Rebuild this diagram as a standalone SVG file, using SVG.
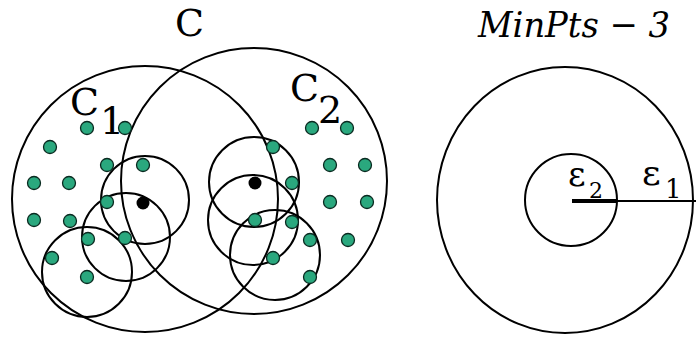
<svg xmlns="http://www.w3.org/2000/svg" width="696" height="338" viewBox="0 0 696 338">
<style>
.c{fill:none;stroke:#000;stroke-width:2}
.g{fill:#2aa87e;stroke:#0a2a20;stroke-width:1.3}
.k{fill:#000}
text{font-family:'DejaVu Serif','Liberation Serif',serif;fill:#000}
</style>
<defs>
<circle id="d" r="6.5" class="g"/>
</defs>
<rect width="696" height="338" fill="#fff"/>
<g id="clusters">
<circle class="c" cx="145" cy="199" r="133"/>
<circle class="c" cx="254" cy="181" r="133"/>
</g>
<g id="eps-left">
<circle class="c" cx="145" cy="200" r="44"/>
<circle class="c" cx="126" cy="237" r="44"/>
<circle class="c" cx="87" cy="272" r="45"/>
</g>
<g id="eps-right">
<circle class="c" cx="254" cy="182" r="45"/>
<circle class="c" cx="253" cy="220" r="45"/>
<circle class="c" cx="275" cy="255" r="45"/>
</g>
<g id="points">
<use href="#d" x="87" y="128"/><use href="#d" x="125" y="128"/>
<use href="#d" x="50" y="147"/>
<use href="#d" x="107" y="165"/><use href="#d" x="143" y="165"/>
<use href="#d" x="34" y="183"/><use href="#d" x="69" y="183"/>
<use href="#d" x="107" y="202"/>
<use href="#d" x="34" y="220"/><use href="#d" x="70" y="221"/>
<use href="#d" x="88" y="239"/><use href="#d" x="125" y="238"/>
<use href="#d" x="52" y="258"/>
<use href="#d" x="87" y="277"/>
<use href="#d" x="273" y="147"/><use href="#d" x="292" y="183"/>
<use href="#d" x="255" y="220"/><use href="#d" x="292" y="222"/>
<use href="#d" x="310" y="240"/><use href="#d" x="273" y="258"/>
<use href="#d" x="310" y="277"/>
<use href="#d" x="312" y="128"/><use href="#d" x="347" y="128"/>
<use href="#d" x="330" y="165"/><use href="#d" x="365" y="165"/>
<use href="#d" x="330" y="202"/><use href="#d" x="367" y="202"/>
<use href="#d" x="348" y="240"/>
<circle class="k" cx="143" cy="203" r="6.5"/>
<circle class="k" cx="255" cy="183" r="6.5"/>
</g>
<g id="labels-left">
<text x="175" y="36" font-size="38">C</text>
<text x="70" y="115" font-size="38">C</text>
<text x="100" y="134" font-size="38">1</text>
<text x="290" y="101" font-size="38">C</text>
<text x="318" y="123" font-size="38">2</text>
</g>
<g id="eps-diagram">
<ellipse class="c" cx="565" cy="200" rx="128" ry="133"/>
<circle class="c" cx="571" cy="200" r="46"/>
<line x1="572" y1="201" x2="617" y2="201" stroke="#000" stroke-width="4"/>
<line x1="617" y1="201" x2="696" y2="201" stroke="#000" stroke-width="2"/>
<text x="478" y="37" font-size="36" font-style="italic" textLength="192" lengthAdjust="spacingAndGlyphs">MinPts − 3</text>
<text x="568" y="186" font-size="34">ε</text>
<text x="589" y="198" font-size="22">2</text>
<text x="642" y="185" font-size="36">ε</text>
<text x="665" y="198" font-size="26">1</text>
</g>
</svg>
